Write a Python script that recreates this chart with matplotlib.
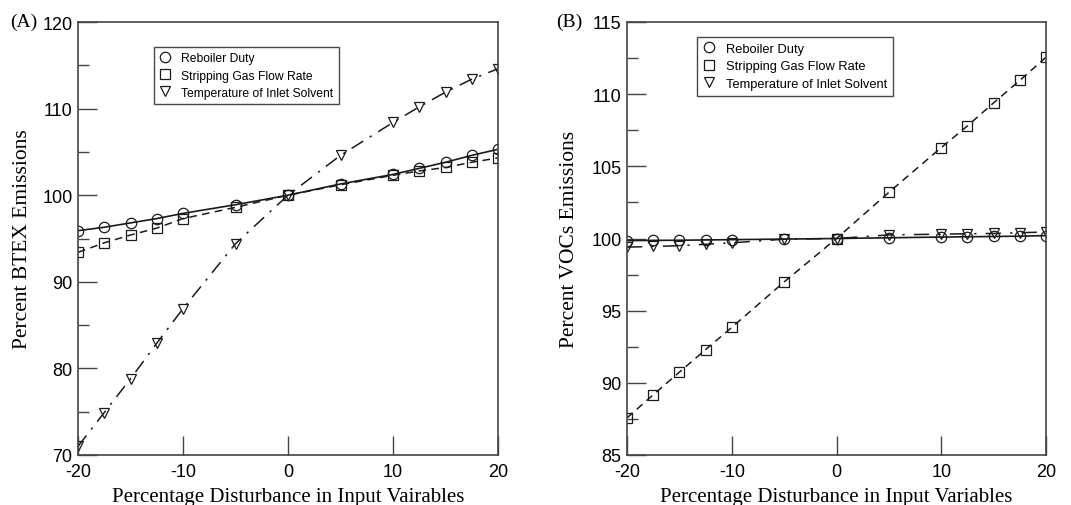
import matplotlib
matplotlib.use("Agg")
import matplotlib.pyplot as plt
from matplotlib.ticker import MultipleLocator

plt.rcParams["axes.unicode_minus"] = False

x = [-20, -17.5, -15, -12.5, -10, -5, 0, 5, 10, 12.5, 15, 17.5, 20]

# Panel A: Percent BTEX Emissions
a_reboiler = [95.9, 96.3, 96.8, 97.3, 97.9, 98.9, 100.0, 101.3, 102.4, 103.1, 103.8, 104.6, 105.3]
a_gas = [93.4, 94.5, 95.4, 96.2, 97.3, 98.6, 100.0, 101.2, 102.3, 102.8, 103.2, 103.8, 104.3]
a_temp = [71.0, 74.9, 78.8, 82.9, 86.9, 94.4, 100.0, 104.6, 108.4, 110.2, 111.9, 113.4, 114.6]

# Panel B: Percent VOCs Emissions
b_reboiler = [99.85, 99.87, 99.88, 99.9, 99.92, 99.96, 100.0, 100.05, 100.1, 100.12, 100.14, 100.16, 100.2]
b_gas = [87.57, 89.17, 90.74, 92.3, 93.84, 96.99, 100.0, 103.2, 106.3, 107.8, 109.4, 110.95, 112.56]
b_temp = [99.4, 99.45, 99.5, 99.6, 99.7, 99.95, 100.0, 100.25, 100.3, 100.33, 100.35, 100.4, 100.45]

labels = ["Reboiler Duty", "Stripping Gas Flow Rate", "Temperature of Inlet Solvent"]

W, H = 1071, 506
fig = plt.figure(figsize=(W / 100, H / 100), dpi=100)

sans = "Liberation Sans"
serif = "Liberation Serif"
ink = "#1a1a1a"
spine_c = "#444444"

def ax_rect(l, r, t, b):
    return [l / W, 1 - b / H, (r - l) / W, (b - t) / H]

def style_axes(ax, ylim, ymaj, ymin, xlabel, ylabel, ylab_x):
    ax.set_xlim(-20, 20)
    ax.set_ylim(*ylim)
    ax.xaxis.set_major_locator(MultipleLocator(10))
    ax.yaxis.set_major_locator(MultipleLocator(ymaj))
    ax.yaxis.set_minor_locator(MultipleLocator(ymin))
    ax.tick_params(axis="both", which="major", direction="in", length=14, width=1.0,
                   color=spine_c, labelsize=13)
    ax.tick_params(axis="x", which="major", pad=6)
    ax.tick_params(axis="y", which="major", pad=4)
    ax.tick_params(axis="y", which="minor", direction="in", length=8, width=1.0, color=spine_c)
    ax.tick_params(axis="x", which="minor", length=0)
    for lab in ax.get_xticklabels() + ax.get_yticklabels():
        lab.set_fontfamily(sans)
    for s in ax.spines.values():
        s.set_color(spine_c)
        s.set_linewidth(1.2)
    ax.set_xlabel(xlabel, fontfamily=serif, fontsize=15)
    ax.set_ylabel(ylabel, fontfamily=serif, fontsize=15.5)
    ax.xaxis.set_label_coords(0.5, -0.074)
    ax.yaxis.set_label_coords(ylab_x, 0.5)

def plot_series(ax, rb, gs, tp, temp_ls):
    mk = dict(markerfacecolor="none", markeredgecolor=ink, markeredgewidth=0.9, markersize=7.5)
    ax.plot(x, rb, color=ink, lw=1.2, ls="-", marker="o", label=labels[0], **mk)
    ax.plot(x, gs, color=ink, lw=1.1, ls=(0, (5, 3.5)), marker="s", label=labels[1], **mk)
    ax.plot(x, tp, color=ink, lw=1.1, ls=temp_ls, marker="v", label=labels[2], **mk)

def add_legend(ax, ax_left, ax_w, box_left, box_top, fs):
    leg = ax.legend(loc="upper left",
                    bbox_to_anchor=((box_left - ax_left) / ax_w, 1 - (box_top - 23) / 433),
                    prop={"family": sans, "size": fs}, frameon=True, fancybox=False,
                    edgecolor=ink, handlelength=1.0, handletextpad=0.8, borderpad=0.45,
                    labelspacing=0.42, borderaxespad=0)
    for h in leg.legend_handles:
        h.set_linestyle("none")
    leg.get_frame().set_linewidth(1.0)
    return leg

# Panel A
axA = fig.add_axes(ax_rect(78, 498, 23, 456))
plot_series(axA, a_reboiler, a_gas, a_temp, (0, (9, 5, 1.5, 5)))
style_axes(axA, (70, 120), 10, 5, "Percentage Disturbance in Input Vairables",
           "Percent BTEX Emissions", -0.11)
add_legend(axA, 78, 420, 154, 48, 8.7)
fig.text(10 / W, 1 - 22 / H, "(A)", fontfamily=serif, fontsize=14, va="center", ha="left")

# Panel B
axB = fig.add_axes(ax_rect(627, 1046, 23, 456))
plot_series(axB, b_reboiler, b_gas, b_temp, (0, (10, 6, 1.5, 6)))
style_axes(axB, (85, 115), 5, 2.5, "Percentage Disturbance in Input Variables",
           "Percent VOCs Emissions", -0.115)
add_legend(axB, 627, 419, 697, 38, 9.3)
fig.text(556 / W, 1 - 22 / H, "(B)", fontfamily=serif, fontsize=14, va="center", ha="left")

fig.savefig("out.png", dpi=100)
